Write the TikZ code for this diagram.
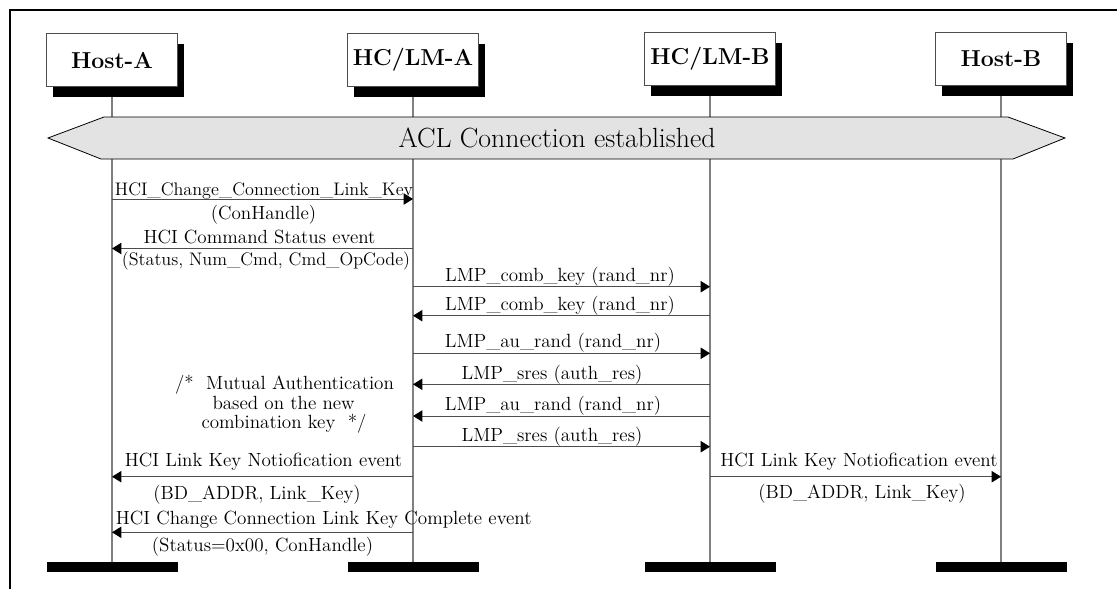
\documentclass[tikz,border=0pt]{standalone}
\usetikzlibrary{arrows.meta,shadows}
\begin{document}
\begin{tikzpicture}[x=0.75pt,y=-0.75pt,
  actor/.style={draw=black!70, line width=0.6pt, fill=white, minimum width=98.25pt, minimum height=39.75pt,
    font=\bfseries\fontsize{17.3}{20}\selectfont, inner sep=0pt,
    general shadow={fill=black, draw=none, shadow xshift=4.5pt, shadow yshift=-7.5pt}},
  endbar/.style={fill=black, minimum width=98.25pt, minimum height=7.5pt, inner sep=0pt},
  life/.style={draw=black!50, line width=1pt},
  msg/.style={draw=black!70, line width=0.75pt, -{Triangle[length=7pt,width=8.5pt,color=black]}},
  lbl/.style={font=\fontsize{14.3}{16}\selectfont, inner sep=0pt, anchor=base},
  lblnarrow/.style={font=\fontsize{13.6}{16}\selectfont, inner sep=0pt, anchor=base},
]
\useasboundingbox (0,0) rectangle (1117,589);
% frame
\draw[line width=1.5pt] (10,589) -- (10,10) -- (1117,10);

% actors
\node[actor] (hA) at (112,60) {Host-A};
\node[actor] (lA) at (413,60) {HC/LM-A};
\node[actor] (lB) at (710,59) {HC/LM-B};
\node[actor] (hB) at (1001,59) {Host-B};

% bottom bars
\node[endbar] (bA) at (112,567) {};
\node[endbar] (bB) at (413,567) {};
\node[endbar] (bC) at (710,567) {};
\node[endbar] (bD) at (1001,567) {};

% lifelines
\draw[life] ([yshift=-7.5pt]hA.south) -- (bA.north);
\draw[life] ([yshift=-7.5pt]lA.south) -- (bB.north);
\draw[life] ([yshift=-7.5pt]lB.south) -- (bC.north);
\draw[life] ([yshift=-7.5pt]hB.south) -- (bD.north);

% ACL connection hexagon
\draw[fill=black!11, line width=0.6pt] (48,138) -- (104,117) -- (1008,117) -- (1065,138) -- (1013,159) -- (101,159) -- cycle;
\node[inner sep=0pt, anchor=base, font=\fontsize{20.8}{24}\selectfont] (acl) at (557,147) {ACL Connection established};

% message end points
\coordinate (m1s) at (112,199);   \coordinate (m1e) at (413,199);
\coordinate (m2s) at (413,248.5); \coordinate (m2e) at (112,248.5);
\coordinate (m3s) at (413,286.7); \coordinate (m3e) at (710,286.7);
\coordinate (m4s) at (710,315.7); \coordinate (m4e) at (413,315.7);
\coordinate (m5s) at (413,353.3); \coordinate (m5e) at (710,353.3);
\coordinate (m6s) at (710,384.3); \coordinate (m6e) at (413,384.3);
\coordinate (m7s) at (710,416);   \coordinate (m7e) at (413,416);
\coordinate (m8s) at (413,446.7); \coordinate (m8e) at (710,446.7);
\coordinate (m9s) at (413,476.7); \coordinate (m9e) at (112,476.7);
\coordinate (m10s) at (710,476.7); \coordinate (m10e) at (1001,476.7);
\coordinate (m11s) at (413,532.3); \coordinate (m11e) at (112,532.3);

\draw[msg] (m1s) -- (m1e);
\draw[msg] (m2s) -- (m2e);
\draw[msg] (m3s) -- (m3e);
\draw[msg] (m4s) -- (m4e);
\draw[msg] (m5s) -- (m5e);
\draw[msg] (m6s) -- (m6e);
\draw[msg] (m7s) -- (m7e);
\draw[msg] (m8s) -- (m8e);
\draw[msg] (m9s) -- (m9e);
\draw[msg] (m10s) -- (m10e);
\draw[msg] (m11s) -- (m11e);

% labels
\node[lblnarrow] (t1a) at (264,195) {HCI\_Change\_Connection\_Link\_Key};
\node[lbl] (t1b) at (263.5,219) {(ConHandle)};
\node[lbl] (t2a) at (259.5,243.5) {HCI Command Status event};
\node[lblnarrow] (t2b) at (266,265) {(Status, Num\_Cmd, Cmd\_OpCode)};
\node[lbl] (t3) at (560,281) {LMP\_comb\_key (rand\_nr)};
\node[lbl] (t4) at (560,310) {LMP\_comb\_key (rand\_nr)};
\node[lbl] (t5) at (553,347.5) {LMP\_au\_rand (rand\_nr)};
\node[lbl] (t6) at (552,379) {LMP\_sres (auth\_res)};
\node[lbl] (t7) at (553,410.5) {LMP\_au\_rand (rand\_nr)};
\node[lbl] (t8) at (552,441) {LMP\_sres (auth\_res)};
\node[lbl] (c1) at (284.5,389.5) {/*~~Mutual Authentication};
\node[lbl] (c2) at (283.6,409.5) {based on the new};
\node[lbl] (c3) at (284,428) {combination key~~*/};
\node[lbl] (t9a) at (263.5,466) {HCI Link Key Notiofication event};
\node[lbl] (t9b) at (257,499.5) {(BD\_ADDR, Link\_Key)};
\node[lbl] (t10a) at (859,466) {HCI Link Key Notiofication event};
\node[lbl] (t10b) at (862,498) {(BD\_ADDR, Link\_Key)};
\node[lbl] (t11a) at (323.7,524.5) {HCI Change Connection Link Key Complete event};
\node[lbl] (t11b) at (262.5,551) {(Status=0x00, ConHandle)};
\end{tikzpicture}
\end{document}
